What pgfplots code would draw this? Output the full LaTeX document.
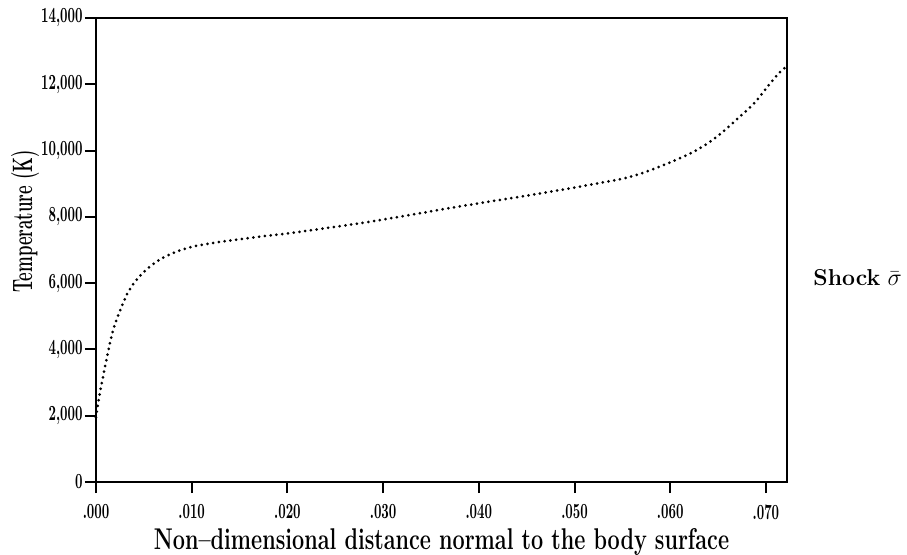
\documentclass[border=0pt]{standalone}
\usepackage{pgfplots}
\pgfplotsset{compat=1.18}
\usepackage{graphicx}
\newcommand{\cond}[1]{\scalebox{0.6}[1]{#1}}
\begin{document}
\begin{tikzpicture}
\begin{axis}[
  at={(0,0)}, anchor=south west,
  scale only axis, width=345.5pt, height=232pt,
  xmin=0, xmax=0.0722, ymin=0, ymax=14000,
  scaled ticks=false,
  axis line style={line width=1pt},
  every tick/.style={line width=1pt, black},
  tick align=outside, major tick length=5.5pt,
  xtick pos=bottom, ytick pos=left,
  xtick={0,0.01,0.02,0.03,0.04,0.05,0.06,0.07},
  xticklabels={\cond{.000},\cond{.010},\cond{.020},\cond{.030},\cond{.040},\cond{.050},\cond{.060},\cond{.070}},
  ytick={0,2000,4000,6000,8000,10000,12000,14000},
  yticklabels={\cond{0},\cond{2,000},\cond{4,000},\cond{6,000},\cond{8,000},\cond{10,000},\cond{12,000},\cond{14,000}},
  ticklabel style={font=\bfseries\fontsize{10.8}{11}\selectfont},
  yticklabel style={inner sep=1pt},
  xticklabel style={inner sep=1pt, yshift=-4.5pt},
  clip=false,
]
\addplot[black, line width=1.5pt, line cap=round, dash pattern=on 0pt off 2.9pt, smooth, tension=0.6] coordinates {
(0.0000,1950) (0.0004,2680) (0.0011,3690) (0.0018,4590) (0.0027,5300)
(0.0035,5800) (0.0047,6250) (0.0066,6700) (0.0092,7030) (0.0122,7210)
(0.0167,7390) (0.0200,7500) (0.0250,7700) (0.0294,7890) (0.0381,8320)
(0.0467,8720) (0.0522,9000) (0.0557,9200) (0.0591,9540) (0.0626,9990)
(0.0650,10450) (0.0671,10980) (0.0688,11440) (0.0702,11940) (0.0714,12350)
(0.0720,12500)
};
\node[anchor=base, inner sep=0pt, font=\bfseries\fontsize{15}{16}\selectfont] at (axis description cs:0.5,-0.1447) {\scalebox{0.72}[1]{Non--dimensional distance normal to the body surface}};
\node[anchor=center, rotate=90, inner sep=0pt, font=\bfseries\fontsize{14}{15}\selectfont] at (axis description cs:-0.1027,0.5616) {\scalebox{0.6}[1]{Temperature (K)}};
\node[anchor=base west, inner sep=0pt, font=\fontsize{11.5}{12}\selectfont] at (axis description cs:1.0376,0.4233) {\textbf{Shock} $\bar{\sigma}$};
\end{axis}
\pgfresetboundingbox
\path (-48pt,-36pt) rectangle (405.5pt,241pt);
\end{tikzpicture}
\end{document}
